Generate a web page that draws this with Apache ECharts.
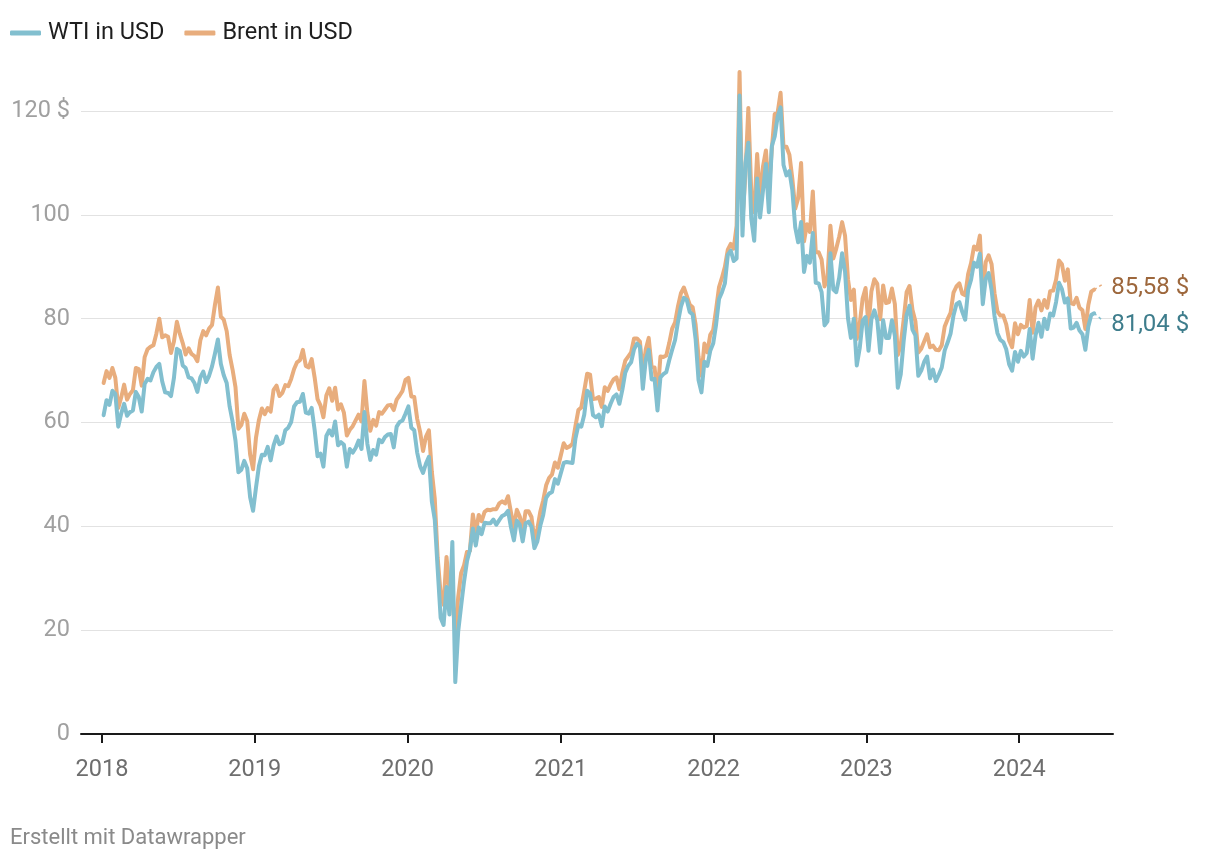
<!DOCTYPE html>
<html>
<head>
<meta charset="utf-8">
<script src="https://cdn.jsdelivr.net/npm/echarts@6/dist/echarts.min.js"></script>
<style>html,body{margin:0;padding:0;background:#fff}#c{width:1220px;height:860px}</style>
</head>
<body>
<div id="c"></div>
<script>
// First Friday of each year; weekly (Friday) closing prices follow
const weekStarts = ['2018-01-05','2019-01-04','2020-01-03','2021-01-08','2022-01-07','2023-01-06','2024-01-05'];

const wti2018 = [61.4,64.3,63.4,66.1,65.5,59.2,61.7,63.6,61.3,62.0,62.3,65.9,64.9,
  62.1,67.4,68.4,68.1,69.7,70.7,71.3,67.9,65.8,65.7,65.1,68.6,74.2,
  73.8,71.0,70.5,68.7,68.5,67.6,65.9,68.7,69.8,67.8,69.0,70.8,73.3,
  76.0,71.3,69.1,67.6,63.1,60.2,56.5,50.4,50.9,52.6,51.2,45.6,43.0];
const brent2018 = [67.6,69.9,68.6,70.5,68.6,62.8,64.8,67.3,64.4,65.5,66.2,70.5,70.3,
  67.1,72.6,74.1,74.6,74.9,77.1,80.0,76.4,76.8,76.5,73.4,75.6,79.4,
  77.1,75.3,73.1,74.3,73.2,72.8,71.8,75.8,77.6,76.8,78.1,78.8,82.7,
  86.0,80.4,79.8,77.6,73.0,70.2,66.8,58.8,59.5,61.7,60.3,53.8,51.0];

const wti2019 = [47.5,51.6,53.8,53.7,55.3,52.7,55.6,57.3,55.8,56.1,58.5,59.0,60.1,
  63.1,63.9,64.0,65.5,61.9,61.7,62.8,58.6,53.5,54.0,51.5,57.4,58.5,
  57.5,60.2,55.6,56.2,55.7,51.5,54.9,54.2,55.1,56.5,54.9,62.0,55.9,
  52.8,54.7,53.8,56.7,56.2,57.2,57.7,57.8,55.2,59.2,60.1,60.4,61.7];
const brent2019 = [57.1,60.5,62.7,61.6,62.8,62.1,66.3,67.1,65.1,65.7,67.2,67.0,68.4,
  70.3,71.6,72.0,74.0,70.9,70.6,72.2,68.7,64.5,63.3,61.0,65.2,66.6,
  64.2,66.7,62.5,63.5,61.9,57.5,58.6,59.3,60.4,61.5,60.2,68.0,61.9,
  58.4,60.5,59.4,62.0,61.7,62.5,63.3,63.4,62.4,64.4,65.2,66.1,68.2];

const wti2020 = [63.1,59.0,58.5,54.2,51.6,50.3,52.1,53.4,44.8,41.3,31.7,22.4,21.0,
  28.3,23.0,37.0,10.0,19.8,24.7,29.4,33.3,35.5,39.6,36.3,39.8,38.5,
  40.7,40.6,40.6,41.3,40.3,41.2,42.0,42.3,43.0,39.8,37.3,41.1,40.3,
  37.1,40.6,40.9,39.9,35.8,37.1,40.1,42.2,45.5,46.3,46.6,49.1,48.2];
const brent2020 = [68.6,65.0,64.9,60.7,58.2,54.5,57.3,58.5,50.5,45.3,33.9,27.0,24.9,
  34.1,28.0,26.0,19.5,26.4,31.0,32.5,35.1,35.3,42.3,38.7,42.2,41.0,
  42.8,43.2,43.1,43.3,43.3,44.4,44.8,44.4,45.8,42.7,39.8,43.2,41.9,
  39.3,42.9,42.9,41.8,37.5,39.5,42.8,45.0,47.9,49.3,50.0,52.3,51.3];

const wti2021 = [52.2,52.4,52.3,52.2,56.9,59.5,59.2,61.5,66.1,65.6,61.4,61.0,61.5,
  59.3,63.1,62.1,63.6,64.9,65.4,63.6,66.3,69.6,70.9,71.6,74.1,75.2,
  74.6,66.5,72.1,74.0,68.3,68.4,62.3,68.7,69.3,69.7,72.0,74.0,75.9,
  79.4,82.3,84.0,83.6,81.3,80.8,76.1,68.2,65.8,71.7,70.9,73.8,75.2];
const brent2021 = [56.0,55.1,55.4,55.9,59.3,62.4,62.9,66.1,69.4,69.2,64.5,64.6,64.9,
  63.0,66.8,66.1,67.3,68.3,68.7,66.4,69.6,71.9,72.7,73.5,76.2,76.2,
  75.6,69.5,74.1,76.3,70.7,70.6,65.2,72.7,72.6,72.9,75.3,78.1,79.3,
  82.4,84.9,86.0,84.4,82.7,82.2,78.9,72.7,69.0,75.2,73.5,76.9,77.8];

const wti2022 = [78.9,83.8,85.1,86.8,92.3,93.1,91.1,91.6,123.0,96.0,110.0,113.9,99.3,
  95.0,107.0,99.5,104.7,109.8,100.5,113.2,115.1,118.9,120.7,109.6,107.6,108.4,
  104.8,97.6,94.7,98.6,89.0,92.1,90.8,96.5,86.9,86.8,85.1,78.7,79.5,
  92.6,85.6,85.1,87.9,92.6,89.0,80.1,76.3,80.0,71.0,74.3,79.6,80.3];
const brent2022 = [81.8,86.1,87.9,90.0,93.3,94.4,93.5,97.9,127.5,99.0,107.9,120.6,104.4,
  100.5,111.7,103.0,109.3,112.4,104.5,112.6,119.4,119.7,123.5,113.1,113.1,111.6,
  107.0,101.2,103.2,110.0,94.9,98.2,96.7,104.5,92.8,92.8,91.4,86.2,88.0,
  97.9,91.6,93.5,95.8,98.6,96.0,87.6,83.6,85.6,76.1,79.0,83.9,85.9];

const wti2023 = [73.8,79.9,81.6,79.7,73.4,79.7,76.3,76.3,79.7,76.7,66.7,69.3,75.7,
  80.7,82.5,77.9,76.8,69.0,70.0,71.7,72.7,68.5,70.2,68.0,69.2,70.6,
  73.9,75.4,77.1,80.6,82.8,83.2,81.3,79.8,85.6,87.5,90.8,90.0,92.5,
  82.8,87.7,88.8,85.5,80.5,77.2,75.9,75.5,74.1,71.2,70.0,73.6,71.7];
const brent2023 = [78.6,85.3,87.6,86.7,79.9,86.4,83.0,83.2,85.8,82.8,73.0,75.0,79.8,
  85.1,86.3,81.7,79.5,73.5,74.2,75.6,77.0,74.5,74.8,74.0,73.9,74.9,
  78.5,79.9,81.1,85.0,86.2,86.8,84.8,84.5,88.6,90.7,93.9,93.3,96.0,
  84.6,90.9,92.2,90.5,84.9,81.4,80.6,80.6,78.9,75.8,74.5,79.1,77.0];

const wti2024 = [73.8,72.7,73.4,78.0,72.3,76.8,79.2,76.5,80.0,78.0,81.0,80.6,83.2,
  86.9,85.7,83.1,83.9,78.1,78.3,79.2,77.7,77.0,74.0,78.5,80.7,81.04];
const brent2024 = [78.8,78.3,78.6,83.6,77.3,82.2,83.5,81.6,83.6,82.1,85.3,85.4,87.5,
  91.2,90.5,87.3,89.5,83.0,82.8,84.0,82.1,81.6,78.0,82.6,85.2,85.58];

const yearTickLabels = ['2018','2019','2020','2021','2022','2023','2024'];
const yTickValues = [0,20,40,60,80,100,120];

const DAY = 86400000;
function weekly(first, values) {
  const t0 = Date.parse(first + 'T00:00:00Z');
  return values.map((v, i) => [t0 + i * 7 * DAY, v]);
}
const wtiYears = [wti2018, wti2019, wti2020, wti2021, wti2022, wti2023, wti2024];
const brentYears = [brent2018, brent2019, brent2020, brent2021, brent2022, brent2023, brent2024];
const wtiData = [].concat(...wtiYears.map((a, i) => weekly(weekStarts[i], a)));
const brentData = [].concat(...brentYears.map((a, i) => weekly(weekStarts[i], a)));
const yearTicks = yearTickLabels.map(y => Date.UTC(+y, 0, 1));

const WTI_COLOR = '#82bfcf', BRENT_COLOR = '#e8ad7d';
const WTI_LABEL = '#3e7d8c', BRENT_LABEL = '#9d673c';
const FONT = 'Roboto, "Noto Sans", sans-serif';
const FS = 23.5;
const fmt = v => v.toFixed(2).replace('.', ',') + ' $';

function connector(data, dv, color) {
  const last = data[data.length - 1];
  return {
    silent: true, symbol: ['none', 'none'], animation: false,
    label: { show: false },
    lineStyle: { color: color, width: 1.5, type: [3, 3] },
    data: [[{ coord: [last[0], last[1]] }, { coord: [last[0] + 19 * DAY, last[1] + dv] }]]
  };
}

const chart = echarts.init(document.getElementById('c'), null, { renderer: 'canvas' });
chart.setOption({
  animation: false,
  backgroundColor: '#ffffff',
  textStyle: { fontFamily: FONT },
  title: {
    text: 'Erstellt mit Datawrapper', left: 10, top: 827, padding: 0,
    textStyle: { fontSize: 22, fontWeight: 'normal', color: '#8a8a8a', fontFamily: FONT }
  },
  legend: {
    data: ['WTI in USD', 'Brent in USD'],
    left: 10, top: 21, padding: 0, icon: 'roundRect', itemWidth: 31, itemHeight: 5, itemGap: 20,
    textStyle: { fontSize: FS, color: '#1e1e1e', fontFamily: FONT, padding: [0, 0, 0, 2] },
    selectedMode: false
  },
  grid: { left: 81, right: 107, top: 111, bottom: 126 },
  xAxis: {
    type: 'value',
    min: Date.UTC(2017, 10, 12), max: Date.UTC(2024, 7, 12),
    axisLine: { show: true, onZero: false, lineStyle: { color: '#1a1a1a', width: 2 } },
    axisTick: { show: true, customValues: yearTicks, length: 9, lineStyle: { color: '#1a1a1a', width: 2 } },
    axisLabel: {
      customValues: yearTicks, margin: 24, fontSize: FS, color: '#6e6e6e', fontFamily: FONT,
      formatter: v => yearTickLabels[yearTicks.indexOf(v)] || String(new Date(v).getUTCFullYear())
    },
    splitLine: { show: false }
  },
  yAxis: {
    type: 'value', min: 0, max: 120, interval: 20,
    axisLine: { show: false }, axisTick: { show: false },
    axisLabel: {
      margin: 11, fontSize: FS, color: '#a0a0a0', fontFamily: FONT,
      formatter: v => (v === yTickValues[yTickValues.length - 1] ? v + ' $' : String(v))
    },
    splitLine: { lineStyle: { color: '#e2e2e2', width: 1.2 } }
  },
  series: [
    {
      name: 'Brent in USD', type: 'line', data: brentData, symbol: 'none', showSymbol: false,
      clip: false, z: 2,
      lineStyle: { color: BRENT_COLOR, width: 4, cap: 'round', join: 'round' },
      itemStyle: { color: BRENT_COLOR },
      emphasis: { disabled: true },
      endLabel: { show: true, formatter: p => fmt(p.value[1]), color: BRENT_LABEL, fontSize: 24, fontFamily: FONT, distance: 17, offset: [0, -2] },
      markLine: connector(brentData, 1.0, BRENT_COLOR)
    },
    {
      name: 'WTI in USD', type: 'line', data: wtiData, symbol: 'none', showSymbol: false,
      clip: false, z: 3,
      lineStyle: { color: WTI_COLOR, width: 4, cap: 'round', join: 'round' },
      itemStyle: { color: WTI_COLOR },
      emphasis: { disabled: true },
      endLabel: { show: true, formatter: p => fmt(p.value[1]), color: WTI_LABEL, fontSize: 24, fontFamily: FONT, distance: 17, offset: [0, 12] },
      markLine: connector(wtiData, -1.3, WTI_COLOR)
    }
  ]
});
</script>
</body>
</html>
